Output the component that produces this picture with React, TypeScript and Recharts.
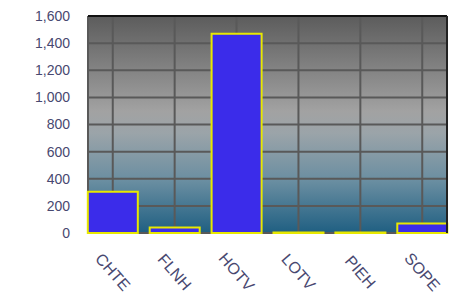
import React from "react";
import {
  BarChart,
  Bar,
  XAxis,
  YAxis,
  CartesianGrid,
  ReferenceLine,
} from "recharts";

const categories = ["CHTE", "FLNH", "HOTV", "LOTV", "PIEH", "SOPE"];
const values = [305, 40, 1470, 4, 3, 70];
const yTicks = [0, 200, 400, 600, 800, 1000, 1200, 1400, 1600];

const data = categories.map((name, i) => ({ idx: i, name, value: values[i] }));

const labelColor = "#484870";
const font = "'Liberation Sans', Arial, Helvetica, sans-serif";

function CategoryTick(props: any) {
  const { x, y, payload } = props;
  const cy = y + 39;
  return (
    <text
      x={x}
      y={cy}
      textAnchor="middle"
      dominantBaseline="central"
      transform={`rotate(49, ${x}, ${cy})`}
      fill={labelColor}
      fontSize={16}
      fontFamily={font}
    >
      {categories[payload.value]}
    </text>
  );
}

export default function App() {
  return (
    <div style={{ position: "fixed", left: 0, top: 0, width: 460, height: 302, background: "#fff" }}>
      <BarChart
        width={460}
        height={302}
        data={data}
        margin={{ top: 16, right: 13, left: 0, bottom: 0 }}
      >
        <defs>
          <linearGradient id="plotBg" x1="0" y1="0" x2="0" y2="1">
            <stop offset="0%" stopColor="#5c5c5c" />
            <stop offset="44%" stopColor="#a2a2a2" />
            <stop offset="54%" stopColor="#9ba4a9" />
            <stop offset="76%" stopColor="#6a8ea1" />
            <stop offset="100%" stopColor="#1f5f82" />
          </linearGradient>
        </defs>

        {/* gradient background + dark grid */}
        <CartesianGrid
          fill="url(#plotBg)"
          fillOpacity={1}
          stroke="#595959"
          strokeWidth={2}
        />

        <XAxis
          dataKey="idx"
          type="number"
          domain={[-0.4, 5.4]}
          ticks={[0, 1, 2, 3, 4, 5]}
          height={69}
          tickSize={0}
          tickMargin={0}
          tickLine={false}
          axisLine={false}
          tick={<CategoryTick />}
          interval={0}
        />

        <YAxis
          domain={[0, 1600]}
          ticks={yTicks}
          width={88}
          tickSize={0}
          tickMargin={18}
          axisLine={false}
          tickLine={false}
          tickFormatter={(v: number) => v.toLocaleString("en-US")}
          tick={{ fontSize: 14, fill: labelColor, fontFamily: font }}
        />

        {/* plot frame: top and right */}
        <ReferenceLine y={1600} stroke="#111" strokeWidth={2} />
        <ReferenceLine x={5.4} stroke="#222" strokeWidth={2} />

        <Bar
          dataKey="value"
          barSize={50}
          fill="#3b2cea"
          stroke="#e8e800"
          strokeWidth={2}
          isAnimationActive={false}
        />
      </BarChart>
    </div>
  );
}
